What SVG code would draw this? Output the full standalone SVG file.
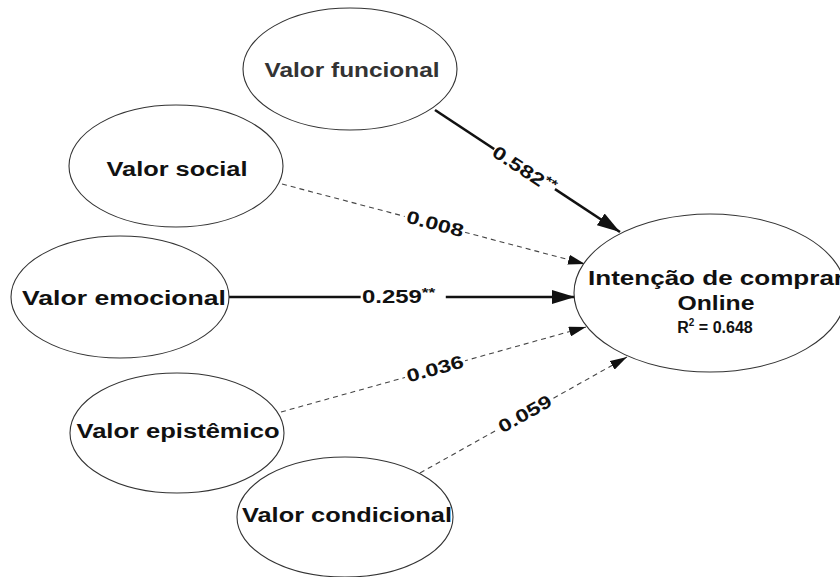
<svg xmlns="http://www.w3.org/2000/svg" width="840" height="577" viewBox="0 0 840 577">
<style>
.node{fill:#fff;stroke:#333;stroke-width:1.1}
.nt{font-family:"Liberation Sans",Arial,sans-serif;font-weight:bold;font-size:20px;fill:#111;text-anchor:middle}
.solid{stroke:#111;stroke-width:2.6;fill:none}
.dash{stroke:#444;stroke-width:1.1;stroke-dasharray:5 4;fill:none}
.el{font-family:"Liberation Sans",Arial,sans-serif;font-weight:bold;font-size:18px;fill:#111}
.bg{fill:#fff;stroke:none}
</style>
<defs>
<marker id="arrS" markerUnits="userSpaceOnUse" markerWidth="24" markerHeight="14" refX="23" refY="7" orient="auto">
<path d="M0,0 L23,7 L0,14 z" fill="#111"/>
</marker>
<marker id="arrD" markerUnits="userSpaceOnUse" markerWidth="18" markerHeight="10" refX="17" refY="5" orient="auto">
<path d="M0,0 L17,5 L0,10 z" fill="#111"/>
</marker>
</defs>
<g id="connectors">
<line class="solid" x1="435" y1="110" x2="620" y2="232" marker-end="url(#arrS)"/>
<line class="dash" x1="282" y1="184" x2="585" y2="264" marker-end="url(#arrD)"/>
<line class="solid" x1="229" y1="297" x2="575" y2="297" marker-end="url(#arrS)"/>
<line class="dash" x1="281" y1="412" x2="586" y2="327" marker-end="url(#arrD)"/>
<line class="dash" x1="420" y1="473" x2="627" y2="357" marker-end="url(#arrD)"/>
<g transform="translate(524,170) rotate(33.4) scale(1.3,1)"><rect class="bg" x="-28" y="-9" width="56" height="18"/><text class="el" x="0" y="6" text-anchor="middle">0.582<tspan font-size="13" dy="-6">**</tspan></text></g>
<g transform="translate(435,224) rotate(14.8) scale(1.3,1)"><rect class="bg" x="-24" y="-9" width="48" height="18"/><text class="el" x="0" y="6" text-anchor="middle">0.008</text></g>
<g transform="translate(362,303) scale(1.33,1)"><rect class="bg" x="-1" y="-15" width="64" height="18"/><text class="el" x="0" y="0">0.259<tspan font-size="13" dy="-6">**</tspan></text></g>
<g transform="translate(435,369) rotate(-15.4) scale(1.3,1)"><rect class="bg" x="-24" y="-9" width="48" height="18"/><text class="el" x="0" y="6" text-anchor="middle">0.036</text></g>
<g transform="translate(525,414) rotate(-29.3) scale(1.3,1)"><rect class="bg" x="-24" y="-9" width="48" height="18"/><text class="el" x="0" y="6" text-anchor="middle">0.059</text></g>
</g>
<g id="funcional">
<ellipse class="node" cx="350" cy="69" rx="107" ry="61"/>
<text class="nt" x="352" y="77" textLength="175" lengthAdjust="spacingAndGlyphs" style="fill:#333">Valor funcional</text>
</g>
<g id="social">
<ellipse class="node" cx="176" cy="166" rx="107" ry="61"/>
<text class="nt" x="177" y="176" textLength="141" lengthAdjust="spacingAndGlyphs">Valor social</text>
</g>
<g id="emocional">
<ellipse class="node" cx="120" cy="297" rx="109" ry="61"/>
<text class="nt" x="124" y="305" textLength="204" lengthAdjust="spacingAndGlyphs">Valor emocional</text>
</g>
<g id="epistemico">
<ellipse class="node" cx="177" cy="433" rx="107" ry="60"/>
<text class="nt" x="178" y="438" textLength="203" lengthAdjust="spacingAndGlyphs">Valor epistêmico</text>
</g>
<g id="condicional">
<ellipse class="node" cx="345" cy="517" rx="108" ry="60"/>
<text class="nt" x="347" y="522" textLength="210" lengthAdjust="spacingAndGlyphs">Valor condicional</text>
</g>
<g id="intencao">
<ellipse class="node" cx="710" cy="293" rx="136" ry="79"/>
<text class="nt" x="588" y="285" textLength="256" lengthAdjust="spacingAndGlyphs" style="text-anchor:start">Intenção de comprar</text>
<text class="nt" x="716" y="310" textLength="77" lengthAdjust="spacingAndGlyphs">Online</text>
<text class="nt" x="715" y="333" style="font-size:16px">R<tspan style="font-size:10px" dy="-7">2</tspan><tspan dy="7"> = 0.648</tspan></text>
</g>
</svg>
